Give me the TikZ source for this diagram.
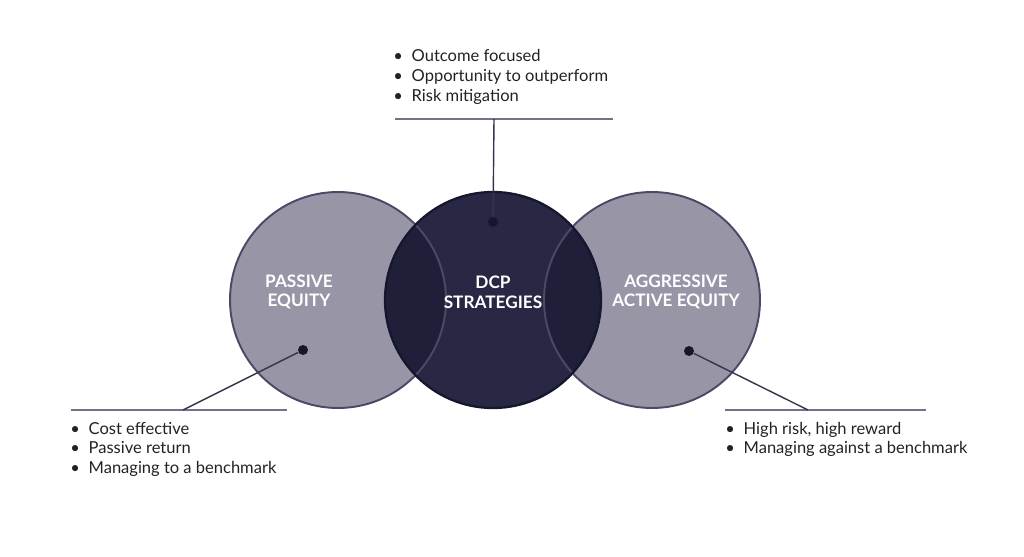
\documentclass[tikz,border=0pt]{standalone}
\usepackage{fontspec}
\setmainfont{Lato}
\definecolor{lightfill}{HTML}{9896A6}
\definecolor{darkfill}{HTML}{282844}
\definecolor{lensfill}{HTML}{1F1F3A}
\definecolor{rim}{HTML}{4A4966}
\definecolor{darkrim}{HTML}{16162E}
\definecolor{rulecol}{HTML}{73728C}
\definecolor{leadcol}{HTML}{34344F}
\definecolor{txt}{HTML}{222222}
\newcommand{\bul}{\textbullet}
\tikzset{
  ring/.style={circle, minimum size=4.32cm, inner sep=0},
  title/.style={text=white, font=\fontsize{9.8}{11.2}\selectfont\bfseries, align=center},
  pin/.style={circle, fill=darkrim, minimum size=0.2cm, inner sep=0},
  listbox/.style={anchor=base west, inner sep=0, text=txt, font=\fontsize{9.4}{11.3}\selectfont},
  rule/.style={rulecol, line width=0.9pt},
  lead/.style={leadcol, line width=0.8pt}
}
\begin{document}
\begin{tikzpicture}[x=0.02cm, y=-0.02cm]
    \useasboundingbox (0,0) rectangle (1024,557);

    % circles
    \node[ring, fill=lightfill] (passive) at (338,300) {};
    \node[ring, fill=lightfill] (active) at (652,300) {};
    \node[ring, fill=darkfill] (dcp) at (493,300) {};
    \begin{scope}
        \clip (493,300) circle (108);
        \fill[lensfill] (338,300) circle (108);
        \fill[lensfill] (652,300) circle (108);
    \end{scope}
    \draw[rim, line width=1.1pt] (passive.center) circle (108);
    \draw[rim, line width=1.1pt] (active.center) circle (108);
    \draw[darkrim, line width=1.3pt] (dcp.center) circle (108);

    % titles
    \node[title] (passivetxt) at (299,292) {PASSIVE\\EQUITY};
    \node[title] (dcptxt) at (493,292) {DCP\\STRATEGIES};
    \node[title] (activetxt) at (676,292) {AGGRESSIVE\\ACTIVE EQUITY};

    % pins
    \node[pin] (toppin) at (493,222) {};
    \node[pin] (leftpin) at (303,350) {};
    \node[pin] (rightpin) at (689,351) {};

    % rules under / over the lists
    \coordinate (topl) at (395,119);
    \coordinate (topr) at (613,119);
    \coordinate (topj) at (494,119);
    \coordinate (leftl) at (71,410);
    \coordinate (leftr) at (287,410);
    \coordinate (leftj) at (183,410);
    \coordinate (rightl) at (725,410);
    \coordinate (rightr) at (926,410);
    \coordinate (rightj) at (808,410);
    \draw[rule] (topl) -- (topr);
    \draw[rule] (leftl) -- (leftr);
    \draw[rule] (rightl) -- (rightr);
    \draw[lead] (toppin) -- (topj);
    \draw[lead] (leftpin) -- (leftj);
    \draw[lead] (rightpin) -- (rightj);

    % lists
    \node[listbox] (toplist) at (393,62) {\begin{tabular}[t]{@{}l@{\hspace{5pt}}l@{}}
        \bul & Outcome focused\\ \bul & Opportunity to outperform\\ \bul & Risk mitigation\end{tabular}};
    \node[listbox] (leftlist) at (70,434) {\begin{tabular}[t]{@{}l@{\hspace{5pt}}l@{}}
        \bul & Cost effective\\ \bul & Passive return\\ \bul & Managing to a benchmark\end{tabular}};
    \node[listbox] (rightlist) at (725,434) {\begin{tabular}[t]{@{}l@{\hspace{5pt}}l@{}}
        \bul & High risk, high reward\\ \bul & Managing against a benchmark\end{tabular}};
\end{tikzpicture}
\end{document}
